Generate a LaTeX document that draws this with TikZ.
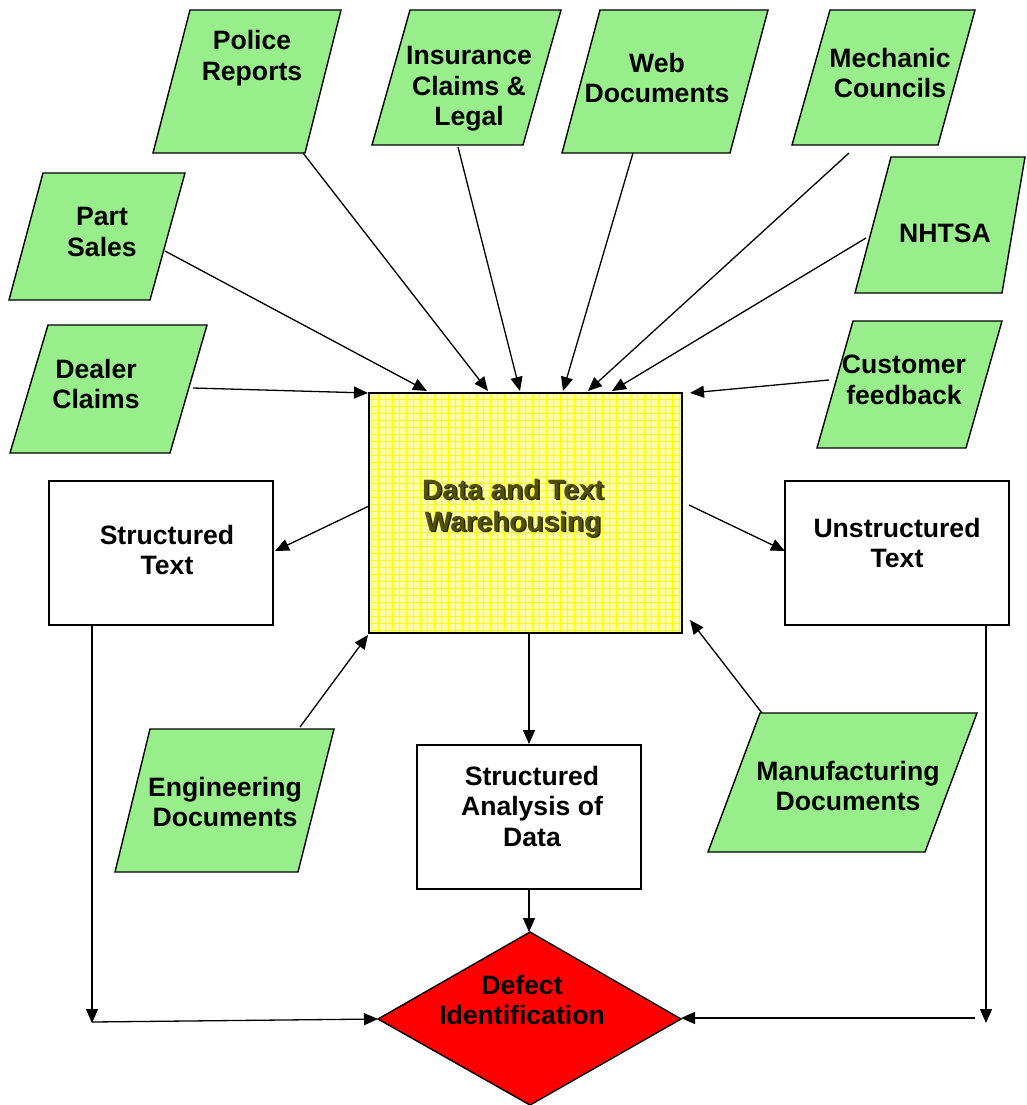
\documentclass[tikz,border=0pt]{standalone}
\usepackage{fontspec}
\setmainfont{Liberation Sans}
\usetikzlibrary{arrows.meta}
\definecolor{srcgreen}{RGB}{153,238,140}
\definecolor{whfill}{RGB}{255,255,165}
\definecolor{whgrid}{RGB}{255,255,0}
\definecolor{whtext}{RGB}{80,80,0}
\definecolor{whshade}{RGB}{40,40,0}
\begin{document}
\begin{tikzpicture}[x=1pt,y=-1pt,
  lbl/.style={align=center,inner sep=0pt,font=\fontsize{26.6}{30.5}\selectfont\bfseries},
  whlbl/.style={align=center,inner sep=0pt,font=\fontsize{28}{32}\selectfont\bfseries},
  srcbox/.style={draw=black,fill=srcgreen,line width=1.4pt,line join=miter},
  whitebox/.style={draw=black,fill=white,line width=1.4pt},
  arr/.style={draw=black,line width=1.3pt,-{Triangle[length=14pt,width=12pt]}},
  plain/.style={draw=black,line width=1.3pt}]
\useasboundingbox (0,0) rectangle (1026,1105);

% ---- source documents (parallelograms) ----
\draw[srcbox] (190,10) -- (341,10) -- (305,153) -- (153,153) -- cycle;
\node[lbl] (police) at (252,58) {Police\\Reports};

\draw[srcbox] (410,10) -- (561,10) -- (523,145) -- (372,145) -- cycle;
\node[lbl] (insurance) at (469,89) {Insurance\\Claims \&\\Legal};

\draw[srcbox] (600,10) -- (768,10) -- (730,153) -- (562,153) -- cycle;
\node[lbl] (web) at (657,78) {Web\\Documents};

\draw[srcbox] (830,10) -- (975,10) -- (938,145) -- (792,145) -- cycle;
\node[lbl] (mechanic) at (890,73) {Mechanic\\Councils};

\draw[srcbox] (43,173) -- (185,173) -- (150,300) -- (9,300) -- cycle;
\node[lbl] (parts) at (102,232) {Part\\Sales};

\draw[srcbox] (891,157) -- (1025,157) -- (1002,293) -- (855,293) -- cycle;
\node[lbl] (nhtsa) at (945,233) {NHTSA};

\draw[srcbox] (48,325) -- (207,325) -- (170,453) -- (10,453) -- cycle;
\node[lbl] (dealer) at (96,384) {Dealer\\Claims};

\draw[srcbox] (853,321) -- (1002,321) -- (966,448) -- (817,448) -- cycle;
\node[lbl] (customer) at (904,380) {Customer\\feedback};

\draw[srcbox] (150,729) -- (334,729) -- (298,872) -- (115,872) -- cycle;
\node[lbl] (engineering) at (225,802) {Engineering\\Documents};

\draw[srcbox] (760,713) -- (977,713) -- (925,852) -- (708,852) -- cycle;
\node[lbl] (manufacturing) at (848,786) {Manufacturing\\Documents};

% ---- central warehouse ----
\fill[whfill] (369,393) rectangle (682,633);
\begin{scope}
  \clip (369,393) rectangle (682,633);
  \draw[whgrid,line width=0.5pt,step=7pt] (369,393) grid (682,633);
\end{scope}
\draw[line width=1.4pt] (369,393) rectangle (682,633);
\node[whlbl,text=whshade] at (514.5,509.5) {Data and Text\\Warehousing};
\node[whlbl,text=whtext] (wh) at (513,508) {Data and Text\\Warehousing};

% ---- text and analysis boxes ----
\draw[whitebox] (49,481) rectangle (273,625);
\node[lbl] (structured) at (167,550) {Structured\\Text};

\draw[whitebox] (785,481) rectangle (1009,625);
\node[lbl] (unstructured) at (897,543) {Unstructured\\Text};

\draw[whitebox] (417,745) rectangle (641,889);
\node[lbl] (analysis) at (532,806) {Structured\\Analysis of\\Data};

% ---- decision diamond ----
\draw[fill=red,draw=black,line width=1.4pt] (530,932) -- (681,1019) -- (530,1105) -- (378,1019) -- cycle;
\node[lbl] (defect) at (522,1000) {Defect\\Identification};

% ---- connector end points ----
\coordinate (policeO) at (303,153);   \coordinate (policeI) at (488,391);
\coordinate (insO) at (458,147);      \coordinate (insI) at (520,391);
\coordinate (webO) at (633,153);      \coordinate (webI) at (563,391);
\coordinate (mechO) at (849,153);     \coordinate (mechI) at (588,391);
\coordinate (nhtsaO) at (866,238);    \coordinate (nhtsaI) at (612,391);
\coordinate (partsO) at (165,251);    \coordinate (partsI) at (427,391);
\coordinate (dealerO) at (193,388);   \coordinate (dealerI) at (368,393);
\coordinate (custO) at (829,380);     \coordinate (custI) at (690,393);
\coordinate (whL) at (369,506);       \coordinate (stIn) at (275,551);
\coordinate (whR) at (689,505);       \coordinate (ustIn) at (785,551);
\coordinate (engO) at (300,727);      \coordinate (engI) at (368,635);
\coordinate (manO) at (762,713);      \coordinate (manI) at (690,620);
\coordinate (whB) at (529,633);       \coordinate (anT) at (529,744);
\coordinate (anB) at (529,889);       \coordinate (dTop) at (529,932);
\coordinate (stB) at (92,625);        \coordinate (stCorner) at (92,1023);
\coordinate (stRun) at (92,1022);     \coordinate (dLeft) at (378,1019);
\coordinate (ustB) at (986,625);      \coordinate (ustCorner) at (986,1023);
\coordinate (ustRun) at (975,1018);   \coordinate (dRight) at (681,1018);

% ---- connectors ----
\draw[arr] (policeO) -- (policeI);
\draw[arr] (insO) -- (insI);
\draw[arr] (webO) -- (webI);
\draw[arr] (mechO) -- (mechI);
\draw[arr] (nhtsaO) -- (nhtsaI);
\draw[arr] (partsO) -- (partsI);
\draw[arr] (dealerO) -- (dealerI);
\draw[arr] (custO) -- (custI);
\draw[arr] (whL) -- (stIn);
\draw[arr] (whR) -- (ustIn);
\draw[arr] (engO) -- (engI);
\draw[arr] (manO) -- (manI);
\draw[arr] (whB) -- (anT);
\draw[arr] (anB) -- (dTop);
\draw[arr] (stB) -- (stCorner);
\draw[arr] (stRun) -- (dLeft);
\draw[arr] (ustB) -- (ustCorner);
\draw[arr] (ustRun) -- (dRight);
\end{tikzpicture}
\end{document}
